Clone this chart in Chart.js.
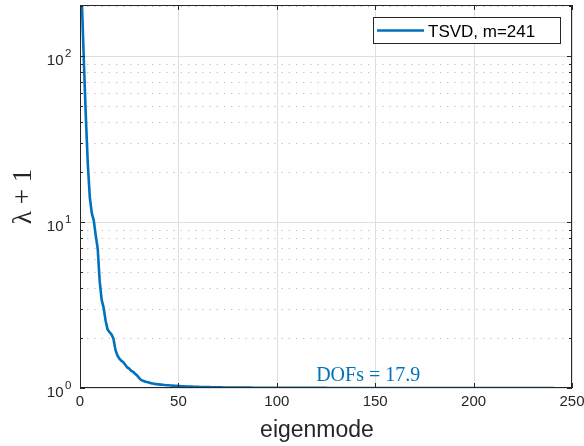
<!DOCTYPE html>
<html>
<head>
<meta charset="utf-8">
<script src="https://cdn.jsdelivr.net/npm/chart.js@4.4.0/dist/chart.umd.min.js"></script>
<style>
html,body{margin:0;padding:0;background:#ffffff;}
#wrap{width:584px;height:446px;position:relative;}
</style>
</head>
<body>
<div id="wrap"><canvas id="c" width="584" height="446"></canvas></div>
<script>
// ---------- data ----------
const seriesLabel = 'TSVD, m=241';
const annotationText = 'DOFs = 17.9';
const xAxisTitle = 'eigenmode';
const yAxisTitle = 'λ + 1';
const xTicks = [0, 50, 100, 150, 200, 250];
const yMajorTicks = [1, 10, 100];
const yMajorExponents = ['0', '1', '2'];
const yMinorTicks = [2, 3, 4, 5, 6, 7, 8, 9, 20, 30, 40, 50, 60, 70, 80, 90, 200];
const yMin = 1;
const yMax = 203;
// lambda + 1 for eigenmode 1..241
const lambdaPlus1 = [
  203, 90, 42, 22, 14, 11.3, 10.2, 8.3, 6.9, 4.4,
  3.4, 3.05, 2.55, 2.25, 2.17, 2.1, 1.98, 1.7, 1.57, 1.5,
  1.46, 1.43, 1.38, 1.33, 1.31, 1.27, 1.25, 1.22, 1.19, 1.15,
  1.12, 1.105, 1.095, 1.085, 1.078, 1.07, 1.064, 1.059, 1.055, 1.051,
  1.048, 1.045, 1.042, 1.040, 1.038, 1.036, 1.034, 1.032, 1.030, 1.028,
  1.026, 1.025, 1.024, 1.022, 1.021, 1.020, 1.019, 1.018, 1.017, 1.016,
  1.015, 1.014, 1.014, 1.013, 1.012, 1.012, 1.011, 1.011, 1.010, 1.010,
  1.009, 1.009, 1.008, 1.008, 1.008, 1.007, 1.007, 1.007, 1.006, 1.006,
  1.006, 1.006, 1.005, 1.005, 1.005, 1.005, 1.005, 1.004, 1.004, 1.004,
  1.004, 1.004, 1.004, 1.003, 1.003, 1.003, 1.003, 1.003, 1.003, 1.003,
  1.003, 1.003, 1.002, 1.002, 1.002, 1.002, 1.002, 1.002, 1.002, 1.002,
  1.002, 1.002, 1.002, 1.002, 1.002, 1.002, 1.002, 1.002, 1.002, 1.002,
  1.002, 1.002, 1.002, 1.002, 1.002, 1.001, 1.001, 1.001, 1.001, 1.001,
  1.001, 1.001, 1.001, 1.001, 1.001, 1.001, 1.001, 1.001, 1.001, 1.001,
  1.001, 1.001, 1.001, 1.001, 1.001, 1.001, 1.001, 1.001, 1.001, 1.001,
  1.001, 1.001, 1.001, 1.001, 1.001, 1.001, 1.001, 1.001, 1.001, 1.001,
  1.001, 1.001, 1.001, 1.001, 1.001, 1.001, 1.001, 1.001, 1.001, 1.001,
  1.001, 1.001, 1.001, 1.001, 1.001, 1.001, 1.001, 1.001, 1.001, 1.001,
  1.001, 1.001, 1.001, 1.001, 1.001, 1.001, 1.001, 1.001, 1.001, 1.001,
  1.001, 1.001, 1.001, 1.001, 1.001, 1.000, 1.000, 1.000, 1.000, 1.000,
  1.000, 1.000, 1.000, 1.000, 1.000, 1.000, 1.000, 1.000, 1.000, 1.000,
  1.000, 1.000, 1.000, 1.000, 1.000, 1.000, 1.000, 1.000, 1.000, 1.000,
  1.000, 1.000, 1.000, 1.000, 1.000, 1.000, 1.000, 1.000, 1.000, 1.000,
  1.000, 1.000, 1.000, 1.000, 1.000, 1.000, 1.000, 1.000, 1.000, 1.000,
  1.000
];
const annotationAt = { x: 120, y: 1.1 };

// ---------- styling ----------
const lineColor = '#0072BD';
const axisColor = '#262626';
const majorGridColor = '#dfdfdf';
const minorGridColor = '#bdbdbd';

const matlabAxes = {
  id: 'matlabAxes',
  beforeDatasetsDraw(chart) {
    const { ctx, chartArea: a, scales: { x, y } } = chart;
    ctx.save();
    ctx.lineWidth = 1;
    // minor dotted grid (y)
    ctx.strokeStyle = minorGridColor;
    ctx.setLineDash([1.2, 6]);
    ctx.beginPath();
    yMinorTicks.forEach(v => {
      if (v > yMax) return;
      const py = Math.round(y.getPixelForValue(v)) + 0.5;
      ctx.moveTo(a.left, py); ctx.lineTo(a.right, py);
    });
    ctx.stroke();
    // major solid grid
    ctx.setLineDash([]);
    ctx.strokeStyle = majorGridColor;
    ctx.beginPath();
    xTicks.forEach(v => {
      const px = Math.round(x.getPixelForValue(v)) + 0.5;
      ctx.moveTo(px, a.top); ctx.lineTo(px, a.bottom);
    });
    yMajorTicks.forEach(v => {
      const py = Math.round(y.getPixelForValue(v)) + 0.5;
      ctx.moveTo(a.left, py); ctx.lineTo(a.right, py);
    });
    ctx.stroke();
    ctx.restore();
  },
  afterDatasetsDraw(chart) {
    const { ctx, chartArea: a, scales: { x, y } } = chart;
    ctx.save();
    // box
    ctx.strokeStyle = axisColor;
    ctx.lineWidth = 1;
    ctx.strokeRect(Math.round(a.left) + 0.5, Math.round(a.top) + 0.5,
      Math.round(a.right - a.left) - 1, Math.round(a.bottom - a.top) - 1);
    // ticks (inward)
    ctx.beginPath();
    xTicks.forEach(v => {
      const px = Math.round(x.getPixelForValue(v)) + 0.5;
      ctx.moveTo(px, a.bottom); ctx.lineTo(px, a.bottom - 5);
      ctx.moveTo(px, a.top); ctx.lineTo(px, a.top + 5);
    });
    yMajorTicks.forEach(v => {
      const py = Math.round(y.getPixelForValue(v)) + 0.5;
      ctx.moveTo(a.left, py); ctx.lineTo(a.left + 5, py);
      ctx.moveTo(a.right, py); ctx.lineTo(a.right - 5, py);
    });
    yMinorTicks.forEach(v => {
      if (v > yMax) return;
      const py = Math.round(y.getPixelForValue(v)) + 0.5;
      ctx.moveTo(a.left, py); ctx.lineTo(a.left + 3, py);
      ctx.moveTo(a.right, py); ctx.lineTo(a.right - 3, py);
    });
    ctx.stroke();

    // y tick labels 10^k
    ctx.fillStyle = axisColor;
    yMajorTicks.forEach((v, i) => {
      const py = y.getPixelForValue(v);
      ctx.font = '15px "Liberation Sans", Arial, sans-serif';
      ctx.textAlign = 'right';
      ctx.textBaseline = 'alphabetic';
      ctx.fillText('10', 63.5, py + 9);
      ctx.font = '11.5px "Liberation Sans", Arial, sans-serif';
      ctx.textAlign = 'left';
      ctx.fillText(yMajorExponents[i], 65, py + 0.5);
    });

    // axis titles
    ctx.font = '23px "Liberation Sans", Arial, sans-serif';
    ctx.textAlign = 'center';
    ctx.textBaseline = 'alphabetic';
    ctx.fillText(xAxisTitle, 317, 437);
    ctx.save();
    ctx.translate(24, (a.top + a.bottom) / 2);
    ctx.rotate(-Math.PI / 2);
    ctx.font = '27px "Liberation Serif", "Times New Roman", serif';
    ctx.textBaseline = 'middle';
    ctx.fillText(yAxisTitle, 0, 0);
    ctx.restore();

    // annotation
    ctx.fillStyle = lineColor;
    ctx.font = '20px "Liberation Serif", "Times New Roman", serif';
    ctx.textAlign = 'left';
    ctx.textBaseline = 'alphabetic';
    ctx.fillText(annotationText, x.getPixelForValue(annotationAt.x), y.getPixelForValue(annotationAt.y));

    // legend
    const ds = chart.data.datasets[0];
    const lw = 187, lh = 26;
    const lx = a.right - 12 - lw, ly = a.top + 12;
    ctx.fillStyle = '#ffffff';
    ctx.fillRect(lx, ly, lw, lh);
    ctx.strokeStyle = axisColor;
    ctx.lineWidth = 1;
    ctx.strokeRect(Math.round(lx) + 0.5, Math.round(ly) + 0.5, lw, lh);
    ctx.strokeStyle = ds.borderColor;
    ctx.lineWidth = 2.6;
    ctx.beginPath();
    ctx.moveTo(lx + 4, ly + 13.5); ctx.lineTo(lx + 51, ly + 13.5);
    ctx.stroke();
    ctx.fillStyle = '#000000';
    ctx.font = '17px "Liberation Sans", Arial, sans-serif';
    ctx.textAlign = 'left';
    ctx.textBaseline = 'alphabetic';
    ctx.fillText(ds.label, lx + 55, ly + 19.5);
    ctx.restore();
  }
};

new Chart(document.getElementById('c').getContext('2d'), {
  type: 'line',
  data: {
    datasets: [{
      label: seriesLabel,
      data: lambdaPlus1.map((v, i) => ({ x: i + 1, y: v })),
      borderColor: lineColor,
      backgroundColor: lineColor,
      borderWidth: 2.6,
      pointRadius: 0,
      fill: false,
      tension: 0
    }]
  },
  options: {
    responsive: false,
    animation: false,
    devicePixelRatio: 1,
    layout: { padding: { left: 0, right: 12, top: 5, bottom: 0 } },
    plugins: { legend: { display: false }, tooltip: { enabled: false } },
    scales: {
      x: {
        type: 'linear', min: 0, max: 250,
        grid: { display: false, drawTicks: false },
        border: { display: false },
        ticks: {
          stepSize: 50, autoSkip: false, maxRotation: 0, padding: 5,
          color: axisColor,
          font: { family: '"Liberation Sans", Arial, sans-serif', size: 15 }
        },
        afterBuildTicks(s) { s.ticks = xTicks.map(v => ({ value: v })); },
        afterFit(s) { s.height = 58; s.paddingLeft = 0; s.paddingRight = 0; }
      },
      y: {
        type: 'logarithmic', min: yMin, max: yMax,
        grid: { display: false, drawTicks: false },
        border: { display: false },
        ticks: { display: false },
        afterFit(s) { s.width = 80; s.paddingTop = 0; s.paddingBottom = 0; }
      }
    }
  },
  plugins: [matlabAxes]
});
</script>
</body>
</html>
